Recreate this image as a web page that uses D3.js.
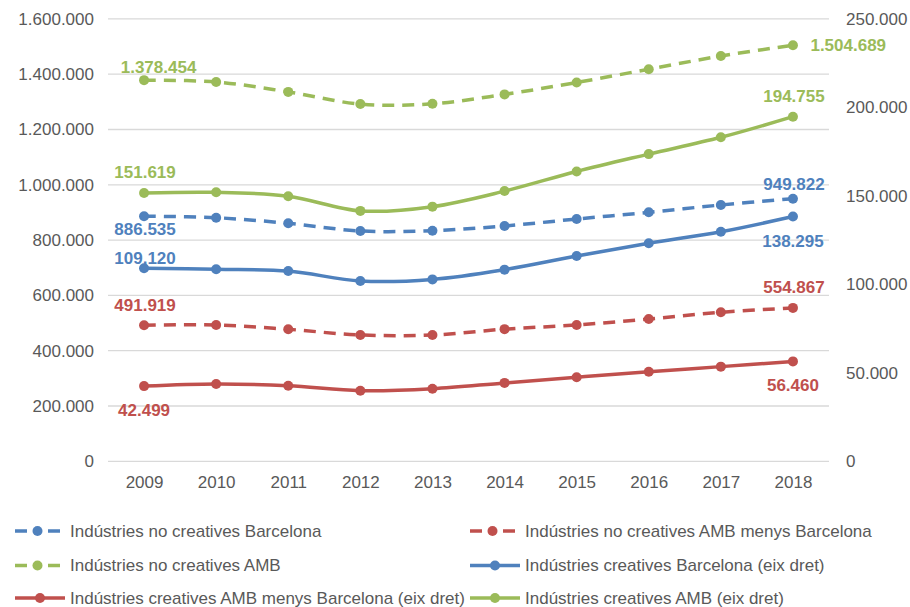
<!DOCTYPE html>
<html>
<head>
<meta charset="utf-8">
<script src="https://cdn.jsdelivr.net/npm/d3@7"></script>
<style>
  html, body { margin: 0; padding: 0; background: #fff; }
  svg { display: block; font-family: "Liberation Sans", Arial, sans-serif; }
</style>
</head>
<body>
<svg id="chart" width="910" height="607"></svg>
<script>
// ---- Data ----
const years = ["2009", "2010", "2011", "2012", "2013", "2014", "2015", "2016", "2017", "2018"];
const leftTicks = [0, 200000, 400000, 600000, 800000, 1000000, 1200000, 1400000, 1600000];
const rightTicks = [0, 50000, 100000, 150000, 200000, 250000];

const noCreativesBarcelona = [886535, 881000, 860800, 833000, 834000, 851000, 876300, 900500, 927000, 949822];
const noCreativesAmbMenysBcn = [491919, 493000, 477400, 456800, 456800, 478000, 493000, 514600, 538900, 554867];
const noCreativesAmb = [1378454, 1372000, 1336000, 1292000, 1293000, 1327000, 1370000, 1418000, 1465800, 1504689];
const creativesBarcelona = [109120, 108500, 107500, 101900, 102800, 108300, 116000, 123200, 129700, 138295];
const creativesAmbMenysBcn = [42499, 43700, 42700, 39900, 41000, 44300, 47500, 50600, 53500, 56460];
const creativesAmb = [151619, 152000, 149800, 141500, 143900, 152700, 163800, 173600, 183100, 194755];

const seriesNames = [
  "Indústries no creatives Barcelona",
  "Indústries no creatives AMB menys Barcelona",
  "Indústries no creatives AMB",
  "Indústries creatives Barcelona (eix dret)",
  "Indústries creatives AMB menys Barcelona (eix dret)",
  "Indústries creatives AMB (eix dret)"
];

// ---- Styles / layout ----
const BLUE = "#4f81bd", RED = "#c0504d", GREEN = "#9bbb59";
const series = [
  { name: seriesNames[0], values: noCreativesBarcelona, axis: "left", color: BLUE, dashed: true,
    labels: [{ i: 0, dx: 1, dy: 19, anchor: "middle" }, { i: 9, dx: 1, dy: -8.5, anchor: "middle" }] },
  { name: seriesNames[1], values: noCreativesAmbMenysBcn, axis: "left", color: RED, dashed: true,
    labels: [{ i: 0, dx: 1, dy: -14.5, anchor: "middle" }, { i: 9, dx: 1, dy: -15, anchor: "middle" }] },
  { name: seriesNames[2], values: noCreativesAmb, axis: "left", color: GREEN, dashed: true,
    labels: [{ i: 0, dx: 14.5, dy: -7.5, anchor: "middle" }, { i: 9, dx: 17.5, dy: 6, anchor: "start" }] },
  { name: seriesNames[3], values: creativesBarcelona, axis: "right", color: BLUE, dashed: false,
    labels: [{ i: 0, dx: 1, dy: -4, anchor: "middle" }, { i: 9, dx: 0, dy: 30, anchor: "middle" }] },
  { name: seriesNames[4], values: creativesAmbMenysBcn, axis: "right", color: RED, dashed: false,
    labels: [{ i: 0, dx: 0, dy: 30, anchor: "middle" }, { i: 9, dx: 0, dy: 30, anchor: "middle" }] },
  { name: seriesNames[5], values: creativesAmb, axis: "right", color: GREEN, dashed: false,
    labels: [{ i: 0, dx: 1, dy: -15, anchor: "middle" }, { i: 9, dx: 1, dy: -15, anchor: "middle" }] }
];

const plot = { left: 108, right: 829, top: 18.9, bottom: 461.3 };
const TEXT = "#595959", GRID = "#d9d9d9", FS = 17;

const loc = d3.formatLocale({ decimal: ",", thousands: ".", grouping: [3], currency: ["", "€"] });
const fmt = loc.format(",d");

const svg = d3.select("#chart");

const x = d3.scalePoint().domain(years).range([plot.left, plot.right]).padding(0.5);
const yL = d3.scaleLinear().domain([0, 1600000]).range([plot.bottom, plot.top]);
const yR = d3.scaleLinear().domain([0, 250000]).range([plot.bottom, plot.top]);

// gridlines
svg.append("g").selectAll("line").data(leftTicks).join("line")
  .attr("x1", plot.left).attr("x2", plot.right)
  .attr("y1", d => yL(d)).attr("y2", d => yL(d))
  .attr("stroke", GRID).attr("stroke-width", 1.3);

// left axis
const gl = svg.append("g").attr("transform", `translate(${plot.left - 14},0)`)
  .call(d3.axisLeft(yL).tickValues(leftTicks).tickFormat(fmt).tickSize(0).tickPadding(0));
gl.select(".domain").remove();
gl.selectAll("text").attr("fill", TEXT).style("font-size", FS + "px")
  .style("font-family", "'Liberation Sans', Arial, sans-serif");

// right axis
const gr = svg.append("g").attr("transform", `translate(${plot.right + 17},0)`)
  .call(d3.axisRight(yR).tickValues(rightTicks).tickFormat(fmt).tickSize(0).tickPadding(0));
gr.select(".domain").remove();
gr.selectAll("text").attr("fill", TEXT).style("font-size", FS + "px")
  .style("font-family", "'Liberation Sans', Arial, sans-serif");

// x axis
const gx = svg.append("g").attr("transform", `translate(0,${plot.bottom + 15})`)
  .call(d3.axisBottom(x).tickSize(0).tickPadding(0));
gx.select(".domain").remove();
gx.selectAll("text").attr("fill", TEXT).style("font-size", FS + "px")
  .style("font-family", "'Liberation Sans', Arial, sans-serif")
  .attr("dy", "0.71em");

// lines
const curve = d3.curveCardinal.tension(0);
series.forEach(s => {
  const ys = s.axis === "left" ? yL : yR;
  const line = d3.line().x((d, i) => x(years[i])).y(d => ys(d)).curve(curve);
  const g = svg.append("g");
  g.append("path").datum(s.values)
    .attr("d", line).attr("fill", "none").attr("stroke", s.color)
    .attr("stroke-width", 3.5)
    .attr("stroke-dasharray", s.dashed ? "12,8" : null)
    .attr("stroke-linecap", "butt");
  g.selectAll("circle").data(s.values).join("circle")
    .attr("cx", (d, i) => x(years[i])).attr("cy", d => ys(d))
    .attr("r", 5).attr("fill", s.color);
  s.labels.forEach(l => {
    const v = s.values[l.i];
    g.append("text")
      .attr("x", x(years[l.i]) + l.dx).attr("y", ys(v) + l.dy)
      .attr("text-anchor", l.anchor)
      .attr("fill", s.color).style("font-weight", "bold").style("font-size", FS + "px")
      .text(fmt(v));
  });
});

// legend
const legendOrder = [0, 1, 2, 3, 4, 5];
const legCols = [15, 470];
const legRows = [531, 565.5, 598];
legendOrder.forEach((si, k) => {
  const s = series[si];
  const col = k % 2, row = Math.floor(k / 2);
  const x0 = legCols[col], yy = legRows[row];
  const g = svg.append("g");
  const len = s.dashed ? 45 : 50;
  g.append("line").attr("x1", x0).attr("x2", x0 + len).attr("y1", yy).attr("y2", yy)
    .attr("stroke", s.color).attr("stroke-width", 3.5)
    .attr("stroke-dasharray", s.dashed ? "12,21" : null);
  g.append("circle").attr("cx", x0 + (s.dashed ? 22.5 : 25)).attr("cy", yy).attr("r", 5).attr("fill", s.color);
  g.append("text").attr("x", x0 + 55).attr("y", yy).attr("dy", "0.35em")
    .attr("fill", TEXT).style("font-size", FS + "px").text(s.name);
});
</script>
</body>
</html>
